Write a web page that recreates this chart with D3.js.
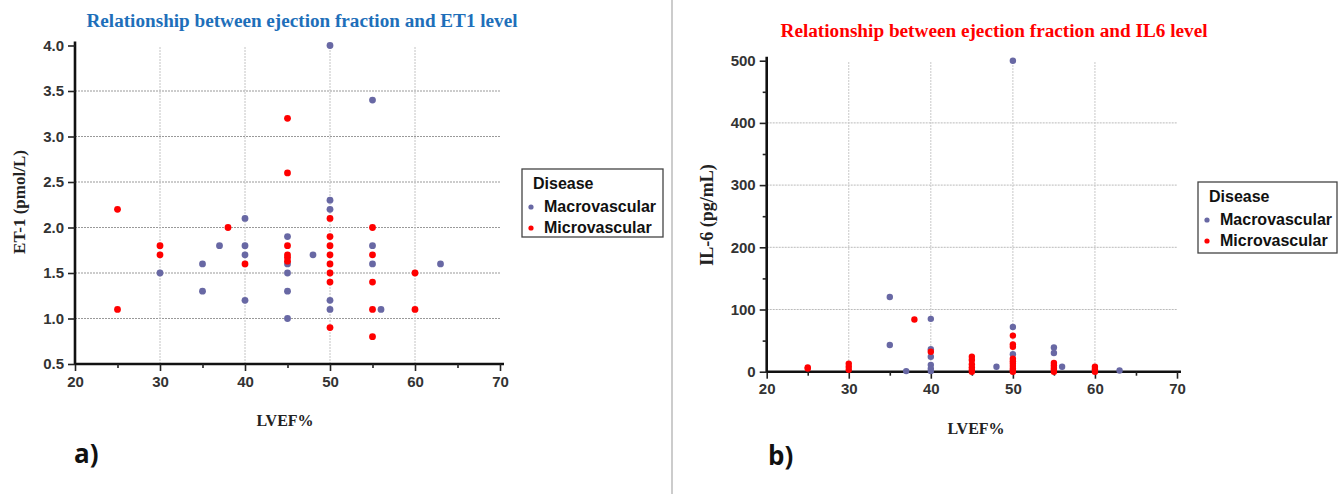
<!DOCTYPE html>
<html>
<head>
<meta charset="utf-8">
<script src="https://cdn.jsdelivr.net/npm/d3@7"></script>
<style>
  body { margin: 0; background: #fff; }
  svg { display: block; }
</style>
</head>
<body>
<div id="chart"></div>
<script>
// ET-1 panel (a)
const et1MacroX = [30, 35, 35, 37, 40, 40, 40, 40, 45, 45, 45, 45, 45, 48, 50, 50, 50, 50, 50, 55, 55, 55, 56, 63];
const et1MacroY = [1.5, 1.6, 1.3, 1.8, 2.1, 1.8, 1.7, 1.2, 1.9, 1.6, 1.5, 1.3, 1.0, 1.7, 4.0, 2.3, 2.2, 1.2, 1.1, 3.4, 1.8, 1.6, 1.1, 1.6];
const et1MicroX = [25, 25, 30, 30, 38, 40, 45, 45, 45, 45, 45, 45, 50, 50, 50, 50, 50, 50, 50, 50, 55, 55, 55, 55, 55, 60, 60];
const et1MicroY = [2.2, 1.1, 1.8, 1.7, 2.0, 1.6, 3.2, 2.6, 1.8, 1.7, 1.67, 1.63, 2.1, 1.9, 1.8, 1.7, 1.6, 1.5, 1.4, 0.9, 2.0, 1.7, 1.4, 1.1, 0.8, 1.5, 1.1];

// IL-6 panel (b)
const il6MacroX = [35, 35, 37, 40, 40, 40, 40, 40, 40, 48, 50, 50, 50, 55, 55, 56, 63];
const il6MacroY = [120, 43, 1, 85, 36, 24, 11, 5, 1, 8, 500, 72, 28, 39, 30, 8, 2];
const il6MicroX = [25, 25, 30, 30, 30, 38, 40, 45, 45, 45, 45, 45, 45, 50, 50, 50, 50, 50, 50, 50, 50, 50, 50, 55, 55, 55, 55, 55, 60, 60, 60];
const il6MicroY = [7, 5, 13, 8, 3, 84, 32, 24, 19, 12, 7, 3, 0, 58, 44, 40, 21, 17, 13, 9, 5, 2, 0, 14, 10, 6, 3, 0, 8, 4, 0];

const xTicks = [20, 30, 40, 50, 60, 70];
const xMinor = [25, 35, 45, 55, 65];
const et1Ticks = [0.5, 1.0, 1.5, 2.0, 2.5, 3.0, 3.5, 4.0];
const il6Ticks = [0, 100, 200, 300, 400, 500];
const il6Minor = [50, 150, 250, 350, 450];
const seriesNames = ["Macrovascular", "Microvascular"];

const macroColor = "#6868a4";
const microColor = "#ff0000";

const W = 1341, H = 494;
const svg = d3.select("#chart").append("svg")
  .attr("width", W).attr("height", H);

// divider between the two panels
svg.append("line")
  .attr("x1", 672).attr("x2", 672).attr("y1", 0).attr("y2", H)
  .attr("stroke", "#999").attr("stroke-width", 1);

function panel(opt) {
  const x = d3.scaleLinear().domain([20, 70]).range(opt.xRange);
  const y = d3.scaleLinear().domain(opt.yDomain).range(opt.yRange);
  const g = svg.append("g");

  // grid
  g.selectAll(".hgrid").data(opt.hGrid).enter().append("line")
    .attr("x1", x(20)).attr("x2", x(70))
    .attr("y1", d => y(d)).attr("y2", d => y(d))
    .attr("stroke", opt.hGridColor).attr("stroke-width", 1)
    .attr("stroke-dasharray", "2,1");
  g.selectAll(".vgrid").data([30, 40, 50, 60]).enter().append("line")
    .attr("x1", d => x(d)).attr("x2", d => x(d))
    .attr("y1", opt.vGridTop).attr("y2", y(opt.yDomain[0]))
    .attr("stroke", opt.vGridColor).attr("stroke-width", 1)
    .attr("stroke-dasharray", "2,1");

  // axes
  const xAxis = g.append("g")
    .attr("transform", "translate(0," + y(opt.yDomain[0]) + ")")
    .call(d3.axisBottom(x).tickValues(xTicks).tickSize(7).tickPadding(5).tickFormat(d3.format("d")));
  g.append("g")
    .attr("transform", "translate(0," + y(opt.yDomain[0]) + ")")
    .call(d3.axisBottom(x).tickValues(xMinor).tickSize(4).tickFormat(""))
    .call(a => a.select(".domain").remove());
  const yAxis = g.append("g")
    .attr("transform", "translate(" + x(20) + ",0)")
    .call(d3.axisLeft(y).tickValues(opt.yTicks).tickSize(7).tickPadding(4).tickFormat(opt.yFormat));
  if (opt.yMinor) {
    g.append("g")
      .attr("transform", "translate(" + x(20) + ",0)")
      .call(d3.axisLeft(y).tickValues(opt.yMinor).tickSize(4).tickFormat(""))
      .call(a => a.select(".domain").remove());
  }
  g.selectAll(".domain").attr("stroke", "#111").attr("stroke-width", 2.6);
  xAxis.select(".domain").attr("d", "M" + x(20) + ",0H" + (x(70) + 4));
  yAxis.select(".domain").attr("d", "M0," + (y(opt.yDomain[0]) + 1) + "V" + (y(opt.yDomain[1]) - 4));
  g.selectAll(".tick line").attr("stroke", "#222").attr("stroke-width", 1.6);
  g.selectAll(".tick text")
    .attr("fill", "#333")
    .style("font-family", "'Liberation Sans Narrow', 'Arial Narrow', Arial, sans-serif")
    .style("font-weight", "bold")
    .style("font-size", "15px");

  // points: macro first, micro on top
  g.selectAll(".macro").data(opt.macroX).enter().append("circle")
    .attr("cx", d => x(d)).attr("cy", (d, i) => y(opt.macroY[i]))
    .attr("r", opt.r).attr("fill", macroColor);
  g.selectAll(".micro").data(opt.microX).enter().append("circle")
    .attr("cx", d => x(d)).attr("cy", (d, i) => y(opt.microY[i]))
    .attr("r", opt.r).attr("fill", microColor);

  // titles
  svg.append("text")
    .attr("x", opt.title.x).attr("y", opt.title.y)
    .attr("text-anchor", "middle")
    .attr("textLength", opt.title.len).attr("lengthAdjust", "spacingAndGlyphs")
    .attr("fill", opt.title.color)
    .style("font-family", "'Liberation Serif', 'DejaVu Serif', serif")
    .style("font-weight", "bold").style("font-size", "18px")
    .text(opt.title.text);

  svg.append("text")
    .attr("x", opt.xLabel.x).attr("y", opt.xLabel.y)
    .attr("text-anchor", "middle").attr("fill", "#222")
    .style("font-family", "'Liberation Serif', serif")
    .style("font-weight", "bold").style("font-size", "16px")
    .text("LVEF%");

  svg.append("text")
    .attr("transform", "translate(" + opt.yLabel.x + "," + opt.yLabel.y + ") rotate(-90)")
    .attr("text-anchor", "middle").attr("fill", "#222")
    .style("font-family", "'Liberation Serif', serif")
    .style("font-weight", "bold").style("font-size", opt.yLabel.size)
    .text(opt.yLabel.text);

  // legend
  const lg = svg.append("g").attr("transform", "translate(" + opt.legend.x + "," + opt.legend.y + ")");
  lg.append("rect")
    .attr("width", opt.legend.w).attr("height", opt.legend.h)
    .attr("fill", "#fff").attr("stroke", "#444").attr("stroke-width", 1.3);
  lg.append("text").attr("x", 11).attr("y", 20)
    .attr("fill", "#111")
    .style("font-family", "'Liberation Sans Narrow', Arial, sans-serif")
    .style("font-weight", "bold").style("font-size", "16px")
    .text("Disease");
  seriesNames.forEach((s, i) => {
    lg.append("circle").attr("cx", 9).attr("cy", 38 + i * 21).attr("r", 2.6)
      .attr("fill", i === 0 ? macroColor : microColor);
    lg.append("text").attr("x", 22).attr("y", 43 + i * 21)
      .attr("fill", "#111")
      .style("font-family", "'Liberation Sans Narrow', Arial, sans-serif")
      .style("font-weight", "bold").style("font-size", "16px")
      .text(s);
  });

  svg.append("text")
    .attr("x", opt.tag.x).attr("y", opt.tag.y)
    .attr("fill", "#111")
    .style("font-family", "'Open Sans', 'Noto Sans', sans-serif")
    .style("font-weight", "bold").style("font-size", "26px")
    .text(opt.tag.text);
}

panel({
  xRange: [75, 500], yDomain: [0.5, 4.0], yRange: [364, 45.5],
  yTicks: et1Ticks, yFormat: d3.format(".1f"), yMinor: null,
  hGrid: [1.0, 1.5, 2.0, 2.5, 3.0, 3.5], hGridColor: "#999", vGridColor: "#c4c4c4", vGridTop: 47,
  macroX: et1MacroX, macroY: et1MacroY, microX: et1MicroX, microY: et1MicroY, r: 3.4,
  title: { text: "Relationship between ejection fraction and ET1 level", x: 302, y: 27, len: 431, color: "#1e6fba" },
  xLabel: { x: 285, y: 426 }, yLabel: { x: 25, y: 202, text: "ET-1 (pmol/L)", size: "17px" },
  legend: { x: 522, y: 169, w: 141, h: 68 },
  tag: { x: 74, y: 463, text: "a)" }
});

panel({
  xRange: [766.7, 1177], yDomain: [0, 500], yRange: [371.7, 60.7],
  yTicks: il6Ticks, yFormat: d3.format("d"), yMinor: il6Minor,
  hGrid: [100, 200, 300, 400], hGridColor: "#bbb", vGridColor: "#c8c8c8", vGridTop: 62,
  macroX: il6MacroX, macroY: il6MacroY, microX: il6MicroX, microY: il6MicroY, r: 3.2,
  title: { text: "Relationship between ejection fraction and IL6 level", x: 994, y: 37, len: 427, color: "#ff0000" },
  xLabel: { x: 976, y: 434 }, yLabel: { x: 713, y: 215, text: "IL-6 (pg/mL)", size: "18px" },
  legend: { x: 1198, y: 182, w: 139, h: 71 },
  tag: { x: 768, y: 465, text: "b)" }
});
</script>
</body>
</html>
